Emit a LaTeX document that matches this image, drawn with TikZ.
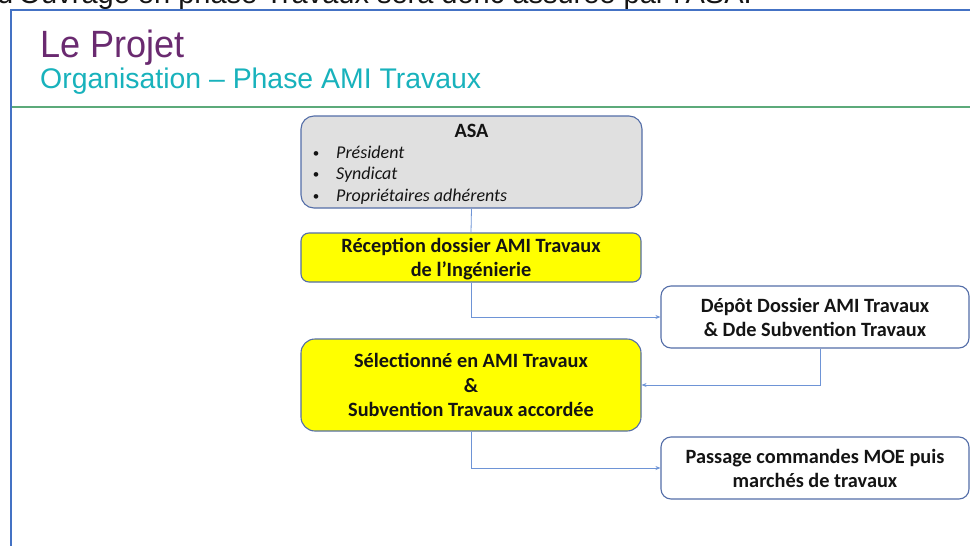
\documentclass[tikz,border=0pt]{standalone}
\usepackage{fontspec}
\setmainfont{Carlito}
\newfontfamily\arialf{Liberation Sans}
\newfontfamily\titlef[FakeStretch=0.95]{Liberation Sans}
\usetikzlibrary{arrows.meta}
\definecolor{framebl}{RGB}{68,114,196}
\definecolor{greenln}{RGB}{92,170,122}
\definecolor{titlepurple}{RGB}{106,42,112}
\definecolor{subteal}{RGB}{24,178,188}
\definecolor{boxborder}{RGB}{84,110,168}
\definecolor{asagray}{RGB}{224,224,224}
\definecolor{boxyellow}{RGB}{255,255,0}
\definecolor{connblue}{RGB}{110,148,214}
\definecolor{txt}{RGB}{20,20,20}
\tikzset{
  boxbase/.style={draw=boxborder, line width=1.1pt, inner sep=0pt, align=center,
    text=txt, font=\bfseries\fontsize{20.3}{24.2}\selectfont},
  leftbox/.style={boxbase, minimum width=340pt, text depth=0pt},
  rightbox/.style={boxbase, fill=white, minimum width=308pt, minimum height=62pt, rounded corners=10pt, text depth=0pt},
  conn/.style={draw=connblue, line width=0.8pt},
  arrowconn/.style={conn, -{Stealth[length=5pt,width=4pt]}},
  item/.style={anchor=base west, inner sep=0pt, text=txt, font=\itshape\fontsize{18}{22}\selectfont},
  bullet/.style={anchor=base, inner sep=0pt, text=txt, font=\fontsize{13}{16}\selectfont}
}
\begin{document}
\begin{tikzpicture}[x=1pt,y=-1pt]
\useasboundingbox (0,0) rectangle (970,546);
% clipped sentence at the top
\node[anchor=base east, inner sep=0pt, text=txt, font=\arialf\fontsize{29}{32}\selectfont] (topline) at (752,4) {La Maîtrise d'Ouvrage en phase Travaux sera donc assurée par l'ASA.};
% slide frame
\fill[white] (11,10) rectangle (970,546);
\draw[framebl, line width=2pt] (11,546) -- (11,10) -- (970,10);
\draw[greenln, line width=2.5pt] (12,107) -- (970,107);
% titles
\node[anchor=base west, inner sep=0pt, text=titlepurple, font=\titlef\fontsize{38}{40}\selectfont] (title) at (40,57) {Le Projet};
\node[anchor=base west, inner sep=0pt, text=subteal, font=\arialf\fontsize{28.4}{30}\selectfont] (subtitle) at (40,88) {Organisation – Phase AMI Travaux};
% ASA box
\node[boxbase, fill=asagray, minimum width=341pt, minimum height=92pt, rounded corners=13pt] (asa) at (471.5,162) {};
\node[anchor=base, inner sep=0pt, text=txt, font=\bfseries\fontsize{20.3}{24}\selectfont] (asatitle) at (471.5,137) {ASA};
\node[bullet] (b1) at (316,157) {•};
\node[bullet] (b2) at (316,178) {•};
\node[bullet] (b3) at (316,200) {•};
\node[item] (i1) at (336,158) {Président};
\node[item] (i2) at (336,179) {Syndicat};
\node[item] (i3) at (336,201) {Propriétaires adhérents};
% yellow boxes
\node[leftbox, fill=boxyellow, minimum height=49pt, rounded corners=8pt] (recep) at (471,257.5) {Réception dossier AMI Travaux\\de l’Ingénierie};
\node[leftbox, fill=boxyellow, minimum height=92pt, rounded corners=14pt] (select) at (471,385) {Sélectionné en AMI Travaux\\\&\\Subvention Travaux accordée};
% right boxes
\node[rightbox] (depot) at (815,317) {Dépôt Dossier AMI Travaux\\\& Dde Subvention Travaux};
\node[rightbox] (passage) at (815,468) {Passage commandes MOE puis\\marchés de travaux};
% connectors
\draw[conn] (asa.south) -- (recep.north);
\draw[arrowconn] (recep.south) |- (depot.west);
\draw[arrowconn] ([xshift=5pt]depot.south) |- (select.east);
\draw[arrowconn] (select.south) |- (passage.west);
\end{tikzpicture}
\end{document}
